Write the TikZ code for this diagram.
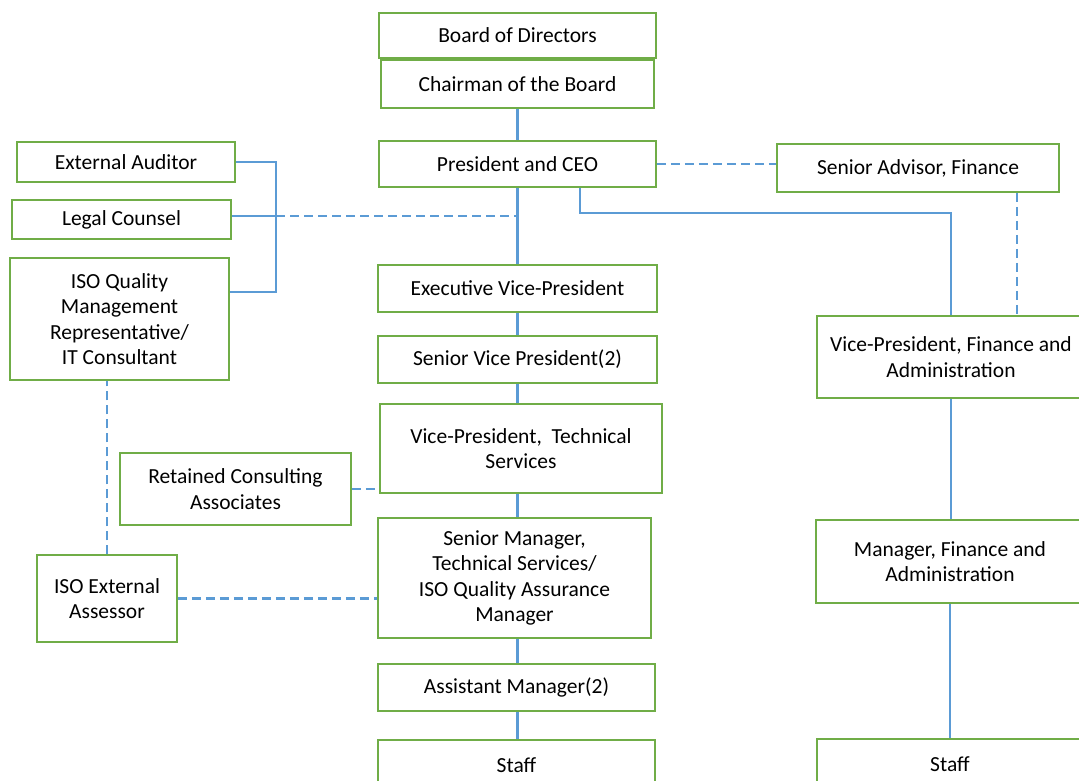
\documentclass[tikz,border=0pt]{standalone}
\usepackage{fontspec}
\setmainfont{Carlito}
\usetikzlibrary{positioning}

\begin{document}
\begin{tikzpicture}[x=1pt,y=-1pt,
  post/.style={draw=boxgreen,line width=1.5pt,fill=white,align=center,
    font=\fontsize{21.5}{25.5}\selectfont,inner sep=2pt},
  solidline/.style={draw=lineblue,line width=2.8pt},
  dashline/.style={draw=lineblue,line width=2.8pt,dash pattern=on 9pt off 5pt}]
\definecolor{boxgreen}{RGB}{112,173,71}
\definecolor{lineblue}{RGB}{91,155,213}
\clip (0,0) rectangle (1079,780);

\node[post,minimum width=277,minimum height=45] (board) at (517.5,35.5) {Board of Directors};
\node[post,minimum width=273,minimum height=48] (chair) at (517.5,84) {Chairman of the Board};
\node[post,minimum width=277,minimum height=46] (ceo) at (517.5,164) {President and CEO};
\node[post,minimum width=282,minimum height=48] (advisor) at (918,168) {Senior Advisor, Finance};
\node[post,minimum width=218,minimum height=40] (auditor) at (126,162) {External Auditor};
\node[post,minimum width=219,minimum height=39] (legal) at (121.5,219.5) {Legal Counsel};
\node[post,minimum width=219,minimum height=122] (isoqm) at (119.5,319) {ISO Quality\\Management\\Representative/\\IT Consultant};
\node[post,minimum width=279,minimum height=47] (evp) at (517.5,288.5) {Executive Vice-President};
\node[post,minimum width=279,minimum height=47] (svp) at (517.5,359.5) {Senior Vice President(2)};
\node[post,minimum width=282,minimum height=89] (vpts) at (521,448.5) {Vice-President,\ \ Technical\\Services};
\node[post,minimum width=231,minimum height=72] (retained) at (235.5,489) {Retained Consulting\\Associates};
\node[post,minimum width=273,minimum height=120] (srmgr) at (514.5,578) {Senior Manager,\\Technical Services/\\ISO Quality Assurance\\Manager};
\node[post,minimum width=140,minimum height=87] (assessor) at (107,598.5) {ISO External\\Assessor};
\node[post,minimum width=277,minimum height=47] (asst) at (516.5,687.5) {Assistant Manager(2)};
\node[post,minimum width=277,minimum height=50] (staffa) at (516.5,765) {Staff};
\node[post,minimum width=268,minimum height=82] (vpfa) at (951,357) {Vice-President, Finance and\\Administration};
\node[post,minimum width=268,minimum height=83] (mgrfa) at (950,561.5) {Manager, Finance and\\Administration};
\node[post,minimum width=266,minimum height=50] (staffb) at (950,764) {Staff};

\coordinate (brk) at (276,216);
\coordinate (fin) at (580,213);

\draw[solidline] (chair.south) -- (ceo.north);
\draw[solidline] (ceo.south) -- (evp.north);
\draw[solidline] (auditor.east) -| (brk) |- ([yshift=27pt]isoqm.east);
\draw[solidline] (legal.east |- brk) -- (brk);
\draw[dashline] (brk) -- (brk -| ceo.south);
\draw[dashline] (ceo.east) -- (ceo.east -| advisor.west);
\draw[solidline] (ceo.south -| fin) -- (fin) -| (vpfa.north);
\draw[dashline] ([xshift=99pt]advisor.south) -- ([xshift=99pt]advisor.south |- vpfa.north);
\draw[solidline] (evp.south) -- (svp.north);
\draw[solidline] (svp.south) -- (svp.south |- vpts.north);
\draw[solidline] (vpts.south -| svp.south) -- (svp.south |- srmgr.north);
\draw[dashline] (retained.east) -- (retained.east -| vpts.west);
\draw[dashline] (assessor.north) -- (assessor.north |- isoqm.south);
\draw[dashline] (assessor.east) -- (assessor.east -| srmgr.west);
\draw[solidline] (srmgr.south -| svp.south) -- (svp.south |- asst.north);
\draw[solidline] (asst.south -| svp.south) -- (svp.south |- staffa.north);
\draw[solidline] (vpfa.south) -- (vpfa.south |- mgrfa.north);
\draw[solidline] (mgrfa.south) -- (mgrfa.south |- staffb.north);
\end{tikzpicture}
\end{document}
